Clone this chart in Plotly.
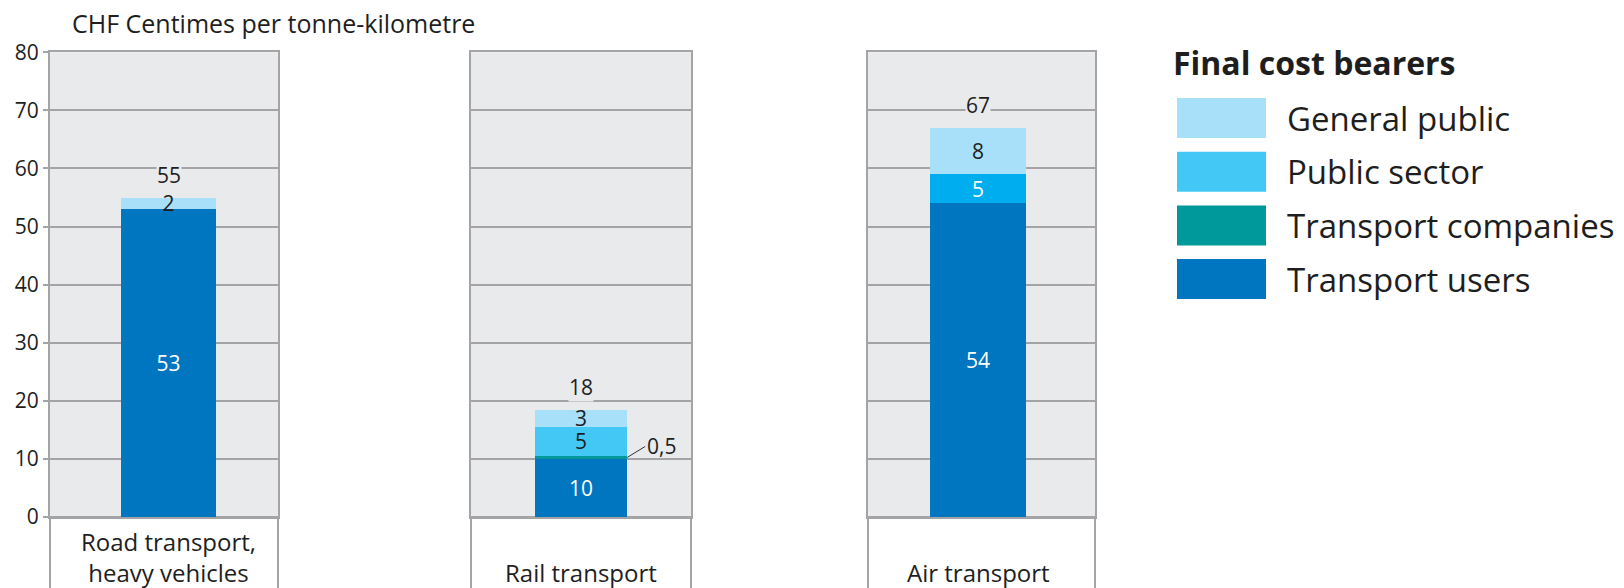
import plotly.graph_objects as go

# ---- data -------------------------------------------------------------
CATEGORIES = ["Road transport,<br>heavy vehicles", "Rail transport", "Air transport"]
SERIES = ["Transport users", "Transport companies", "Public sector", "General public"]
TRANSPORT_USERS = [53, 10, 54]
TRANSPORT_COMPANIES = [0, 0.5, 0]
PUBLIC_SECTOR = [0, 5, 5]
GENERAL_PUBLIC = [2, 3, 8]
Y_TICKS = [0, 10, 20, 30, 40, 50, 60, 70, 80]
Y_TITLE = "CHF Centimes per tonne-kilometre"
LEGEND_TITLE = "Final cost bearers"

VALUES = [TRANSPORT_USERS, TRANSPORT_COMPANIES, PUBLIC_SECTOR, GENERAL_PUBLIC]

# ---- styling ----------------------------------------------------------
FONT = "Open Sans"
INK = "#1e1e1e"
GRID = "#a4a4a6"
PANEL_BG = "#e9eaec"
LEGEND_COLORS = ["#0076c0", "#00999b", "#43c8f5", "#a8e0f9"]
# per-bar fill colours (the public-sector share of air transport is a deeper cyan)
BAR_COLORS = [
    ["#0076c0"] * 3,
    ["#00999b"] * 3,
    ["#43c8f5", "#43c8f5", "#00aeef"],
    ["#a8e0f9"] * 3,
]
TEXT_COLORS = [
    ["white"] * 3,
    [INK] * 3,
    [INK, INK, "white"],
    [INK] * 3,
]
BAR_WIDTH = 0.42
SMALL = 1  # segments below this value get an outside call-out
LABEL_SIZE = 21

W, H = 1624, 588
PANELS_PX = [(50, 278), (471, 691), (868, 1095)]
X_RANGES = [[-0.52, 0.48], [-0.5, 0.5], [-0.485, 0.515]]
PLOT_TOP_PX, PLOT_BOTTOM_PX = 52.3, 517


def px(x):
    return x / W


def py(y):
    return 1 - y / H


def fmt(v):
    return f"{v:g}".replace(".", ",")


fig = go.Figure()

for i, cat in enumerate(CATEGORIES):
    sfx = "" if i == 0 else str(i + 1)
    for s, name in enumerate(SERIES):
        v = VALUES[s][i]
        fig.add_trace(go.Bar(
            x=[cat], y=[v], name=name, showlegend=False,
            xaxis="x" + sfx, yaxis="y" + sfx,
            width=BAR_WIDTH,
            marker=dict(color=BAR_COLORS[s][i], line=dict(width=0)),
            text=[fmt(v) if v >= SMALL else ""],
            textposition="inside", insidetextanchor="middle", textangle=0,
            textfont=dict(family=FONT, size=LABEL_SIZE, color=TEXT_COLORS[s][i]),
            hoverinfo="skip",
        ))
        if 0 < v < SMALL:
            below = sum(VALUES[k][i] for k in range(s))
            fig.add_annotation(
                x=X_RANGES[i][0] + 0.5 + BAR_WIDTH / 2, y=below + v / 2,
                xref="x" + sfx, yref="y" + sfx,
                text=fmt(v), showarrow=True, arrowhead=0, arrowwidth=1,
                arrowcolor="#333333", ax=18, ay=-11, xanchor="left",
                font=dict(family=FONT, size=LABEL_SIZE, color=INK),
            )

    total = sum(VALUES[k][i] for k in range(len(SERIES)))
    fig.add_annotation(
        x=cat, y=total, xref="x" + sfx, yref="y" + sfx, yshift=23,
        text=str(round(total)), showarrow=False, bgcolor=PANEL_BG, borderpad=0,
        font=dict(family=FONT, size=LABEL_SIZE, color=INK),
    )

    # category label box under each panel
    x0, x1 = PANELS_PX[i]
    fig.add_shape(type="rect", xref="paper", yref="paper",
                  x0=px(x0), x1=px(x1), y0=-0.1, y1=py(PLOT_BOTTOM_PX),
                  line=dict(color=GRID, width=2), fillcolor="white", layer="below")
    fig.add_annotation(
        x=cat, y=0, xref="x" + sfx, yref="paper", yanchor="bottom", yshift=-3,
        text=cat, showarrow=False, align="center",
        font=dict(family=FONT, size=24, color=INK),
    )

    fig.layout["xaxis" + sfx] = dict(
        domain=[px(x0), px(x1)], anchor="y" + sfx, type="category",
        range=X_RANGES[i], showticklabels=False, ticks="", automargin=False,
        showline=True, mirror=True, linecolor=GRID, linewidth=2, showgrid=False,
        fixedrange=True,
    )
    fig.layout["yaxis" + sfx] = dict(
        domain=[py(PLOT_BOTTOM_PX), py(PLOT_TOP_PX)], anchor="x" + sfx,
        range=[0, 80], tickvals=Y_TICKS, showgrid=True, gridcolor=GRID, gridwidth=2,
        showline=True, mirror=True, linecolor=GRID, linewidth=2, zeroline=False,
        showticklabels=(i == 0), ticks="outside" if i == 0 else "",
        ticklen=5, tickwidth=2, tickcolor=GRID, automargin=False,
        tickfont=dict(family=FONT, size=LABEL_SIZE, color=INK), fixedrange=True,
    )

# axis unit title
fig.add_annotation(x=px(70), y=py(23), xref="paper", yref="paper",
                   xanchor="left", yanchor="middle", showarrow=False,
                   text=Y_TITLE, font=dict(family=FONT, size=25, color=INK))

# legend, top entry = top of stack
fig.add_annotation(x=px(1171), y=py(63), xref="paper", yref="paper",
                   xanchor="left", yanchor="middle", showarrow=False,
                   text=f"<b>{LEGEND_TITLE}</b>",
                   font=dict(family=FONT, size=32, color=INK))
for row, s in enumerate(reversed(range(len(SERIES)))):
    top = 98 + row * 53.7
    fig.add_shape(type="rect", xref="paper", yref="paper",
                  x0=px(1177), x1=px(1266), y0=py(top + 40), y1=py(top),
                  fillcolor=LEGEND_COLORS[s], line=dict(width=0))
    fig.add_annotation(x=px(1285), y=py(top + 20), xref="paper", yref="paper",
                       xanchor="left", yanchor="middle", showarrow=False,
                       text=SERIES[s], font=dict(family=FONT, size=33, color=INK))

fig.update_layout(
    width=W, height=H, barmode="stack",
    margin=dict(l=0, r=0, t=0, b=0, pad=0, autoexpand=False),
    paper_bgcolor="white", plot_bgcolor=PANEL_BG,
    uniformtext=dict(minsize=LABEL_SIZE, mode="show"),
    showlegend=False,
    font=dict(family=FONT, color=INK),
)

fig.write_html("out.html")
